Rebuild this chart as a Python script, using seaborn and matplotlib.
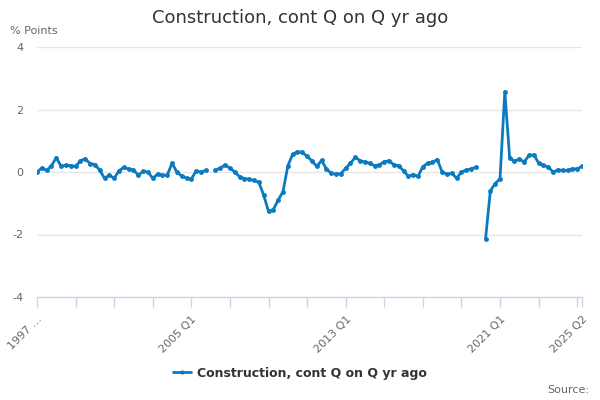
import matplotlib
matplotlib.use("Agg")
import matplotlib.pyplot as plt
from matplotlib.lines import Line2D
import numpy as np
import pandas as pd
import seaborn as sns

# quarterly data, 1997 Q1 .. 2025 Q2 (None = missing)
years = list(range(1997, 2026))
values = [
    0.00, 0.13, 0.05, 0.20, 0.46, 0.18, 0.22, 0.20,    # 1997-1998
    0.18, 0.36, 0.42, 0.27, 0.24, 0.06, -0.20, -0.10,  # 1999-2000
    -0.20, 0.04, 0.15, 0.09, 0.07, -0.10, 0.02, 0.00,  # 2001-2002
    -0.20, -0.07, -0.10, -0.10, 0.28, 0.00, -0.13, -0.20,  # 2003-2004
    -0.22, 0.03, 0.00, 0.05, None, 0.05, 0.13, 0.22,   # 2005-2006
    0.13, 0.00, -0.15, -0.21, -0.23, -0.27, -0.33, -0.74,  # 2007-2008
    -1.26, -1.20, -0.90, -0.63, 0.19, 0.57, 0.65, 0.63,  # 2009-2010
    0.50, 0.36, 0.18, 0.37, 0.10, -0.04, -0.07, -0.05,  # 2011-2012
    0.12, 0.28, 0.47, 0.36, 0.32, 0.28, 0.20, 0.23,    # 2013-2014
    0.33, 0.36, 0.23, 0.20, 0.04, -0.14, -0.08, -0.14,  # 2015-2016
    0.17, 0.28, 0.31, 0.40, 0.00, -0.07, -0.04, -0.20,  # 2017-2018
    0.00, 0.06, 0.10, 0.15, None, -2.14, -0.60, -0.37,  # 2019-2020
    -0.21, 2.57, 0.45, 0.34, 0.42, 0.32, 0.53, 0.55,   # 2021-2022
    0.29, 0.21, 0.16, 0.00, 0.07, 0.05, 0.05, 0.10,    # 2023-2024
    0.10, 0.18,                                        # 2025
]
quarters = [f"{y} Q{q}" for y in years for q in range(1, 5)][: len(values)]
tick_pos = [0, 32, 64, 96, 113]
tick_labels = ["1997 \u2026", "2005 Q1", "2013 Q1", "2021 Q1", "2025 Q2"]
minor_pos = list(range(8, 113, 8))

series_name = "Construction, cont Q on Q yr ago"
blue = "#0b7bc1"

df = pd.DataFrame({"quarter": quarters, "value": values})
df["idx"] = np.arange(len(df))
df["value"] = pd.to_numeric(df["value"])
df["segment"] = df["value"].isna().cumsum()
df = df.dropna()

sns.set_theme(style="white")
plt.rcParams["font.family"] = ["DejaVu Sans"]
plt.rcParams["axes.unicode_minus"] = False

fig = plt.figure(figsize=(6, 4), dpi=100)
ax = fig.add_axes([37 / 600, 1 - 297 / 400, 545 / 600, 250 / 400])

sns.lineplot(
    data=df, x="idx", y="value", units="segment", estimator=None,
    color=blue, linewidth=2, marker="o", markersize=3.5,
    markeredgewidth=0, ax=ax, legend=False,
)

ax.set_xlim(0, 113)
ax.set_ylim(-4, 4)
ax.set_yticks([-4, -2, 0, 2, 4])
ax.yaxis.grid(True, color="#e6e6e6", linewidth=1)
ax.xaxis.grid(False)
ax.set_xlabel("")
ax.set_ylabel("")
for s in ["top", "right", "left"]:
    ax.spines[s].set_visible(False)
ax.spines["bottom"].set_color("#ccd6eb")
ax.spines["bottom"].set_linewidth(1)

ax.set_xticks(tick_pos)
ax.set_xticklabels(tick_labels, rotation=45, ha="right", rotation_mode="anchor")
ax.set_xticks(minor_pos, minor=True)
ax.tick_params(axis="x", which="both", length=7.5, width=1, color="#ccd6eb",
               direction="out", bottom=True, labelsize=8, labelcolor="#666666", pad=5)
ax.tick_params(axis="y", length=0, labelsize=8, labelcolor="#666666", pad=10)

fig.text(0.5, 1 - 18 / 400, series_name, ha="center", va="center",
         fontsize=13, color="#333333")
fig.text(10 / 600, 1 - 31 / 400, "% Points", ha="left", va="center",
         fontsize=8, color="#666666")
fig.text(589 / 600, 1 - 390 / 400, "Source:", ha="right", va="center",
         fontsize=8, color="#666666")

handle = Line2D([], [], color=blue, linewidth=2, marker="o", markersize=3,
                markeredgewidth=0)
fig.legend([handle], [series_name], loc="center", bbox_to_anchor=(0.5, 1 - 373 / 400),
           frameon=False, prop={"weight": "bold", "size": 9}, handlelength=1.4,
           handletextpad=0.5, labelcolor="#333333")

fig.savefig("out.png", dpi=100)
